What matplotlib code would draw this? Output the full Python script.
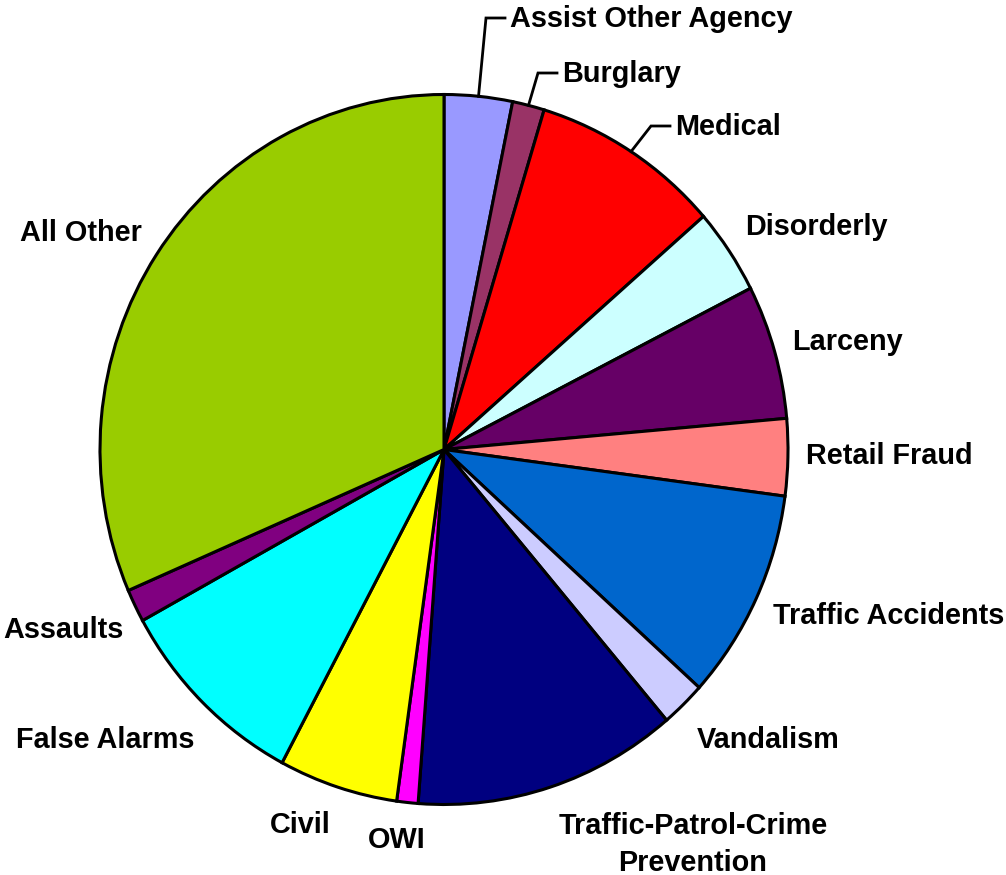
import matplotlib
matplotlib.use("Agg")
import matplotlib.pyplot as plt
import numpy as np

categories = ['Assist Other Agency', 'Burglary', 'Medical', 'Disorderly', 'Larceny',
              'Retail Fraud', 'Traffic Accidents', 'Vandalism',
              'Traffic-Patrol-Crime\nPrevention', 'OWI', 'Civil', 'False Alarms',
              'Assaults', 'All Other']
shares = [3.2, 1.5, 8.9, 3.9, 6.1, 3.5, 9.6, 2.1, 12.4, 1.0, 5.6, 9.2, 1.5, 31.5]
colors = ['#9999FF', '#993366', '#FF0000', '#CCFFFF', '#660066', '#FF8080', '#0066CC',
          '#CCCCFF', '#000080', '#FF00FF', '#FFFF00', '#00FFFF', '#800080', '#99CC00']

# pie geometry in pixels (slightly squashed like the Excel original)
W, H = 1006, 875
cx, cy = 444, 449.5
rx, ry = 344, 355


def px(x, y):
    return (x - cx) / rx, (cy - y) / ry


# label anchor (pixel x, baseline y of last line, alignment) per slice
label_pos = [
    (510, 27, 'left'), (562, 82, 'left'), (675, 135, 'left'), (745, 235, 'left'),
    (792, 350, 'left'), (806, 464, 'left'), (773, 624, 'left'), (697, 748, 'left'),
    (693, 871, 'center'), (397, 848, 'center'), (331, 833, 'right'), (194, 748, 'right'),
    (124, 638, 'right'), (142, 241, 'right'),
]
leaders = [0, 1, 2]

plt.rcParams['font.family'] = ['Liberation Sans', 'DejaVu Sans']

fig = plt.figure(figsize=(W / 100, H / 100), dpi=100)
ax = fig.add_axes([0, 0, 1, 1])
wedges, _ = ax.pie(shares, colors=colors, startangle=90, counterclock=False,
                   wedgeprops=dict(edgecolor='black', linewidth=2.2))
ax.set_aspect('auto')
ax.set_xlim(-cx / rx, (W - cx) / rx)
ax.set_ylim(-(H - cy) / ry, cy / ry)
ax.axis('off')

for i, (name, (lx, ly, ha)) in enumerate(zip(categories, label_pos)):
    x, y = px(lx, ly)
    ax.text(x, y, name, ha=ha, va='baseline', fontsize=20.8, fontweight='bold',
            linespacing=1.42, color='black')
    if i in leaders:
        w = wedges[i]
        mid = np.deg2rad((w.theta1 + w.theta2) / 2)
        sx, sy = np.cos(mid), np.sin(mid)
        ex, ey = px(lx - 5, ly - 9)
        kx, _ = px(lx - 24, ly)
        ax.plot([sx, kx, ex], [sy, ey, ey], color='black', lw=2, solid_joinstyle='miter')

fig.savefig('out.png', dpi=100)
